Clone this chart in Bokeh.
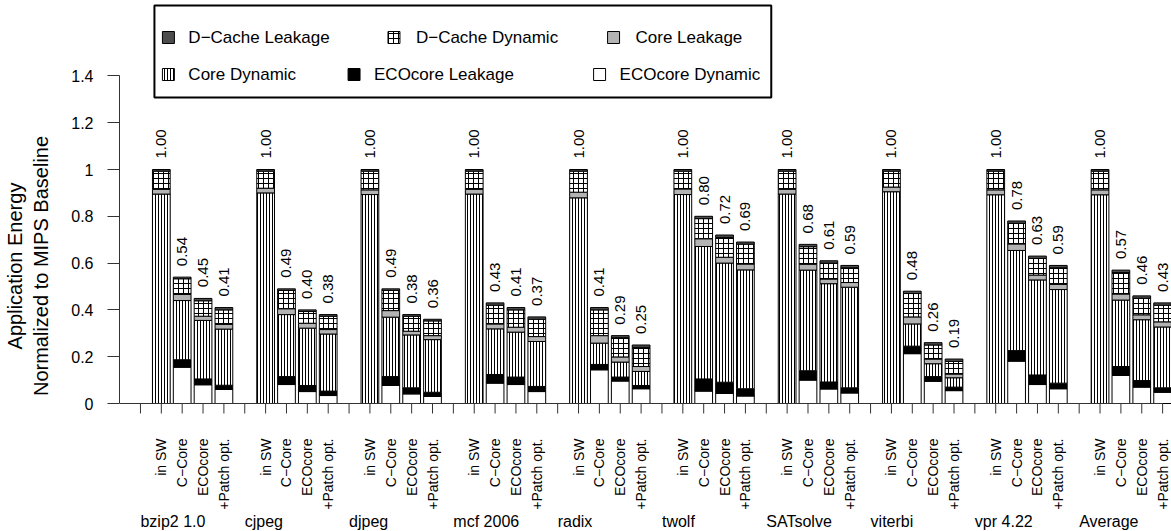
import numpy as np
from bokeh.plotting import figure
from bokeh.models import Range1d, FixedTicker
from bokeh.core.properties import value
from bokeh.embed import file_html
from bokeh.resources import INLINE

# ---------------- data ----------------
groups = ["bzip2 1.0", "cjpeg", "djpeg", "mcf 2006", "radix", "twolf",
          "SATsolve", "viterbi", "vpr 4.22", "Average"]
configs = ["in SW", "C\u2212Core", "ECOcore", "+Patch opt."]

# bar totals as printed above the bars (group by group, config order)
totals = [1.00, 0.54, 0.45, 0.41,
          1.00, 0.49, 0.40, 0.38,
          1.00, 0.49, 0.38, 0.36,
          1.00, 0.43, 0.41, 0.37,
          1.00, 0.41, 0.29, 0.25,
          1.00, 0.80, 0.72, 0.69,
          1.00, 0.68, 0.61, 0.59,
          1.00, 0.48, 0.26, 0.19,
          1.00, 0.78, 0.63, 0.59,
          1.00, 0.57, 0.46, 0.43]

eco_dyn = [0, 0.155, 0.080, 0.060,
           0, 0.081, 0.051, 0.034,
           0, 0.077, 0.041, 0.030,
           0, 0.087, 0.081, 0.051,
           0, 0.144, 0.096, 0.063,
           0, 0.053, 0.043, 0.032,
           0, 0.100, 0.062, 0.045,
           0, 0.213, 0.095, 0.055,
           0, 0.181, 0.081, 0.063,
           0, 0.120, 0.070, 0.048]

eco_leak = [0, 0.032, 0.025, 0.018,
            0, 0.034, 0.026, 0.019,
            0, 0.038, 0.026, 0.018,
            0, 0.037, 0.032, 0.022,
            0, 0.023, 0.017, 0.014,
            0, 0.052, 0.048, 0.031,
            0, 0.040, 0.030, 0.022,
            0, 0.032, 0.020, 0.015,
            0, 0.045, 0.041, 0.024,
            0, 0.038, 0.028, 0.019]

core_dyn = [0.895, 0.253, 0.250, 0.240,
            0.900, 0.265, 0.245, 0.244,
            0.893, 0.254, 0.226, 0.225,
            0.895, 0.195, 0.192, 0.192,
            0.879, 0.091, 0.064, 0.060,
            0.893, 0.566, 0.509, 0.508,
            0.895, 0.430, 0.420, 0.430,
            0.905, 0.095, 0.055, 0.040,
            0.892, 0.428, 0.406, 0.400,
            0.892, 0.284, 0.260, 0.260]

core_leak = [0.020, 0.026, 0.018, 0.020,
             0.020, 0.025, 0.021, 0.019,
             0.020, 0.028, 0.016, 0.017,
             0.020, 0.021, 0.021, 0.021,
             0.024, 0.032, 0.022, 0.021,
             0.024, 0.033, 0.025, 0.025,
             0.020, 0.025, 0.020, 0.020,
             0.020, 0.030, 0.020, 0.016,
             0.021, 0.028, 0.021, 0.022,
             0.021, 0.026, 0.021, 0.022]

dc_dyn = [0.078, 0.067, 0.066, 0.062,
          0.073, 0.078, 0.050, 0.057,
          0.080, 0.086, 0.064, 0.063,
          0.078, 0.080, 0.074, 0.074,
          0.090, 0.110, 0.082, 0.082,
          0.076, 0.086, 0.085, 0.085,
          0.078, 0.075, 0.068, 0.063,
          0.068, 0.100, 0.060, 0.054,
          0.080, 0.088, 0.071, 0.071,
          0.080, 0.092, 0.071, 0.071]

dc_leak = [0.007, 0.007, 0.010, 0.010,
           0.007, 0.007, 0.007, 0.007,
           0.007, 0.007, 0.007, 0.007,
           0.007, 0.010, 0.010, 0.010,
           0.007, 0.010, 0.009, 0.010,
           0.007, 0.010, 0.010, 0.009,
           0.007, 0.010, 0.010, 0.010,
           0.007, 0.010, 0.010, 0.010,
           0.007, 0.010, 0.010, 0.010,
           0.007, 0.010, 0.010, 0.010]

y_ticks = [0, 0.2, 0.4, 0.6, 0.8, 1.0, 1.2, 1.4]
y_tick_labels = ["0", "0.2", "0.4", "0.6", "0.8", "1", "1.2", "1.4"]

# ---------------- layout helpers (page pixels -> data) ----------------
FONT = value("Liberation Sans")
S = 20.9           # px per slot
PXU = 234.0        # px per unit of y
X0 = 138.0         # page x of slot 0
Y0 = 403.0         # page y of value 0
W, H = 1171, 531
LEFT = 117


def dx(px):
    return (px - X0) / S


def dy(py):
    return (Y0 - py) / PXU


p = figure(width=W, height=H, output_backend="svg", toolbar_location=None,
           x_range=Range1d(dx(LEFT), dx(W)),
           y_range=Range1d(dy(H), dy(0)),
           x_axis_location=None, title_location=None,
           min_border_left=LEFT, min_border_right=0,
           min_border_top=0, min_border_bottom=0)
p.outline_line_color = None
p.grid.visible = False
p.background_fill_color = "white"

styles = {
    "ECOcore Dynamic": dict(fill_color="white"),
    "ECOcore Leakage": dict(fill_color="black"),
    "Core Dynamic": dict(fill_color="white", hatch_pattern="vertical_line",
                         hatch_scale=3, hatch_weight=1, hatch_color="black"),
    "Core Leakage": dict(fill_color="#b3b3b3"),
    "D\u2212Cache Dynamic": dict(fill_color="white", hatch_pattern="cross",
                                 hatch_scale=5, hatch_weight=1, hatch_color="black"),
    "D\u2212Cache Leakage": dict(fill_color="#4d4d4d"),
}
layers = [("ECOcore Dynamic", eco_dyn), ("ECOcore Leakage", eco_leak),
          ("Core Dynamic", core_dyn), ("Core Leakage", core_leak),
          ("D\u2212Cache Dynamic", dc_dyn), ("D\u2212Cache Leakage", dc_leak)]

n, m = len(groups), len(configs)
xs = [g * (m + 1) + k + 1 for g in range(n) for k in range(m)]
bottom = np.zeros(len(xs))
for name, vals in layers:
    top = bottom + np.array(vals)
    p.vbar(x=xs, bottom=bottom, top=top, width=0.85, line_color="black",
           line_width=1, **styles[name])
    bottom = top

# value labels
p.text(x=xs, y=np.array(totals) + 11 / PXU, text=[f"{t:.2f}" for t in totals],
       angle=np.pi / 2, text_align="left", text_baseline="middle",
       text_font=FONT, text_font_size="15px", text_color="black")

# x axis (drawn manually, R style)
slots = list(range(n * (m + 1)))
p.segment(x0=[dx(117)], y0=[0], x1=[slots[-1]], y1=[0], line_color="#333333", line_width=1)
p.segment(x0=slots, y0=[0] * len(slots), x1=slots, y1=[dy(413)] * len(slots),
          line_color="#333333", line_width=1)
p.text(x=xs, y=[dy(438)] * len(xs), text=configs * n, angle=np.pi / 2,
       text_align="right", text_baseline="middle", text_font=FONT,
       text_font_size="14px", text_color="black")
p.text(x=[g * (m + 1) for g in range(n)], y=[dy(521)] * n, text=groups,
       text_align="left", text_baseline="middle", text_font=FONT,
       text_font_size="16px", text_color="black")

# y axis
ya = p.yaxis[0]
ya.ticker = FixedTicker(ticks=y_ticks)
ya.major_label_overrides = {t: l for t, l in zip(y_ticks, y_tick_labels)}
ya.bounds = (0, 1.4)
ya.major_tick_out = 12
ya.major_tick_in = 0
ya.minor_tick_line_color = None
ya.axis_line_color = "#333333"
ya.major_tick_line_color = "#333333"
ya.major_label_standoff = 14
ya.major_label_text_font = "Liberation Sans"
ya.major_label_text_font_size = "16px"
ya.major_label_text_color = "black"
ya.axis_label = "Application Energy\nNormalized to MIPS Baseline"
ya.axis_label_text_font = "Liberation Sans"
ya.axis_label_text_font_size = "20px"
ya.axis_label_text_font_style = "normal"
ya.axis_label_text_color = "black"
ya.axis_label_standoff = 16

# legend (drawn manually to match the irregular two-row layout)
p.quad(left=dx(152), right=dx(770), top=dy(5), bottom=dy(97),
       fill_color="white", line_color="black", line_width=2)
leg_items = [("D\u2212Cache Leakage", 166, 37, 186), ("D\u2212Cache Dynamic", 392, 37, 414),
             ("Core Leakage", 612, 37, 634), ("Core Dynamic", 166, 74, 186),
             ("ECOcore Leakage", 352, 74, 372), ("ECOcore Dynamic", 598, 74, 618)]
for name, sx, sy, tx in leg_items:
    p.rect(x=[dx(sx)], y=[dy(sy)], width=12 / S, height=12 / PXU,
           line_color="black", line_width=1, **styles[name])
    p.text(x=[dx(tx)], y=[dy(sy)], text=[name], text_align="left",
           text_baseline="middle", text_font=FONT, text_font_size="17px",
           text_color="black")

open("out.html", "w").write(file_html(p, INLINE))
